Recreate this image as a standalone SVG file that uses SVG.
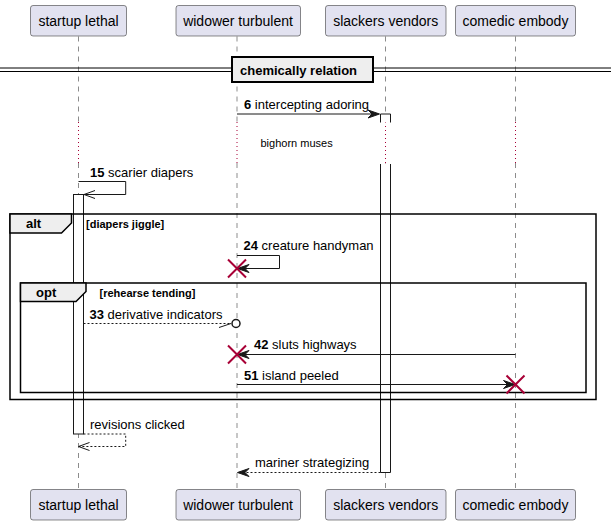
<svg xmlns="http://www.w3.org/2000/svg" width="611" height="525" viewBox="0 0 611 525">
<defs>
<style>
text{font-family:"Liberation Sans",Arial,sans-serif;fill:#000}
.pbox{fill:#E2E2F0;stroke:#181818;stroke-width:0.5}
.pname{font-size:14px;text-anchor:middle}
.life{stroke:#181818;stroke-width:0.5;stroke-dasharray:5,5;fill:none}
.delay{stroke:#A80036;stroke-width:1;stroke-dasharray:1,3;fill:none}
.msg{stroke:#181818;stroke-width:1;fill:none}
.dash{stroke:#181818;stroke-width:1;fill:none;stroke-dasharray:2,2}
.head{fill:#181818;stroke:#181818;stroke-width:1}
.act{fill:#FFFFFF;stroke:#181818;stroke-width:1}
.frame{fill:none;stroke:#000;stroke-width:1.5}
.tab{fill:#EEEEEE;stroke:#000;stroke-width:1.5}
.kill{stroke:#A80036;stroke-width:2}
.lbl{font-size:13px}
.num{font-weight:bold}
.b13{font-size:13px;font-weight:bold}
.b11{font-size:11px;font-weight:bold}
</style>
</defs>
<g id="lifelines">
<path class="life" d="M78.5,36.5V122 M78.5,163V489"/>
<path class="life" d="M237,36.5V122 M237,163V489"/>
<path class="life" d="M385.5,36.5V122 M385.5,163V489"/>
<path class="life" d="M515.5,36.5V122 M515.5,163V489"/>
<path class="delay" d="M78.5,122V163 M237,122V163 M385.5,122V163 M515.5,122V163"/>
</g>
<g id="activations">
<rect class="act" x="73.5" y="194.5" width="10" height="239.5"/>
<path class="act" d="M380.5,122.5V114H390.5V122.5"/>
<path class="act" d="M380.5,164V472.5H390.5V164"/>
<path d="M381,164H390" stroke="#fff" stroke-width="1"/>
</g>
<g id="divider">
<line x1="0" y1="68" x2="611" y2="68" stroke="#000" stroke-width="1"/>
<line x1="0" y1="71.5" x2="611" y2="71.5" stroke="#000" stroke-width="1"/>
<rect x="232" y="57" width="141" height="25" fill="#EEEEEE" stroke="#000" stroke-width="2"/>
<text class="b13" x="240" y="75">chemically relation</text>
</g>
<g id="frame-alt">
<rect class="frame" x="10" y="214" width="586" height="185.5"/>
<path class="tab" d="M10,214H71.5V223L61.5,233H10Z"/>
<text class="b13" x="26" y="228">alt</text>
<text class="b11" x="86" y="228">[diapers jiggle]</text>
</g>
<g id="frame-opt">
<rect class="frame" x="20.5" y="283" width="565.5" height="109.5"/>
<path class="tab" d="M20.5,283H86V291.5L76,301.5H20.5Z"/>
<text class="b13" x="36" y="297">opt</text>
<text class="b11" x="99.5" y="296.5">[rehearse tending]</text>
</g>
<g id="participants">
<g id="p-startup-lethal">
<rect class="pbox" x="30.5" y="5.5" width="96" height="30.5" rx="2.5"/>
<text class="pname" x="78.5" y="25.5">startup lethal</text>
<rect class="pbox" x="30.5" y="489.5" width="96" height="30.5" rx="2.5"/>
<text class="pname" x="78.5" y="509.5">startup lethal</text>
</g>
<g id="p-widower-turbulent">
<rect class="pbox" x="176" y="5.5" width="124.5" height="30.5" rx="2.5"/>
<text class="pname" x="238" y="25.5">widower turbulent</text>
<rect class="pbox" x="176" y="489.5" width="124.5" height="30.5" rx="2.5"/>
<text class="pname" x="238" y="509.5">widower turbulent</text>
</g>
<g id="p-slackers-vendors">
<rect class="pbox" x="325.5" y="5.5" width="120.5" height="30.5" rx="2.5"/>
<text class="pname" x="385.7" y="25.5">slackers vendors</text>
<rect class="pbox" x="325.5" y="489.5" width="120.5" height="30.5" rx="2.5"/>
<text class="pname" x="385.7" y="509.5">slackers vendors</text>
</g>
<g id="p-comedic-embody">
<rect class="pbox" x="455.5" y="5.5" width="120" height="30.5" rx="2.5"/>
<text class="pname" x="515.5" y="25.5">comedic embody</text>
<rect class="pbox" x="455.5" y="489.5" width="120" height="30.5" rx="2.5"/>
<text class="pname" x="515.5" y="509.5">comedic embody</text>
</g>
</g>
<g id="connectors">
<line class="msg" x1="237" y1="114" x2="378" y2="114"/>
<polygon class="head" points="368,110 379.5,114 368,118 372,114"/>
<text class="lbl" x="244" y="108.5"><tspan class="num">6</tspan> intercepting adoring</text>
<text x="260.5" y="147" font-size="11">bighorn muses</text>
<path class="msg" d="M78.5,181.5H125.7V194.5H84"/>
<path class="msg" d="M95,190.5L84,194.5L95,198.5"/>
<text class="lbl" x="90" y="177"><tspan class="num">15</tspan> scarier diapers</text>
<path class="msg" d="M237,255.5H279.5V268.5H239"/>
<polygon class="head" points="249,264.5 237.5,268.5 249,272.5 245,268.5"/>
<path class="kill" d="M228,259.5L246,277.5M246,259.5L228,277.5"/>
<text class="lbl" x="243.5" y="249.5"><tspan class="num">24</tspan> creature handyman</text>
<line class="dash" x1="83.5" y1="323.5" x2="231" y2="323.5"/>
<line class="msg" x1="219" y1="327.5" x2="231" y2="323.5"/>
<circle cx="236" cy="323.5" r="4" fill="#fff" stroke="#181818" stroke-width="1.5"/>
<text class="lbl" x="89.5" y="318.5"><tspan class="num">33</tspan> derivative indicators</text>
<line class="msg" x1="515.5" y1="354.5" x2="239" y2="354.5"/>
<polygon class="head" points="249,350.5 237.5,354.5 249,358.5 245,354.5"/>
<path class="kill" d="M228,345.5L246,363.5M246,345.5L228,363.5"/>
<text class="lbl" x="254" y="349"><tspan class="num">42</tspan> sluts highways</text>
<line class="msg" x1="237" y1="384.5" x2="513" y2="384.5"/>
<polygon class="head" points="503.5,380.5 515,384.5 503.5,388.5 507.5,384.5"/>
<path class="kill" d="M506.5,375.5L524.5,393.5M524.5,375.5L506.5,393.5"/>
<text class="lbl" x="244" y="379.5"><tspan class="num">51</tspan> island peeled</text>
<path class="dash" d="M83.5,434H125.7V446.5H79"/>
<path class="msg" d="M89.5,442.5L78.5,446.5L89.5,450.5"/>
<text class="lbl" x="90" y="428.5">revisions clicked</text>
<line class="dash" x1="380.5" y1="472.5" x2="239" y2="472.5"/>
<polygon class="head" points="249,468.5 237.5,472.5 249,476.5 245,472.5"/>
<text class="lbl" x="255" y="466.5">mariner strategizing</text>
</g>
</svg>
